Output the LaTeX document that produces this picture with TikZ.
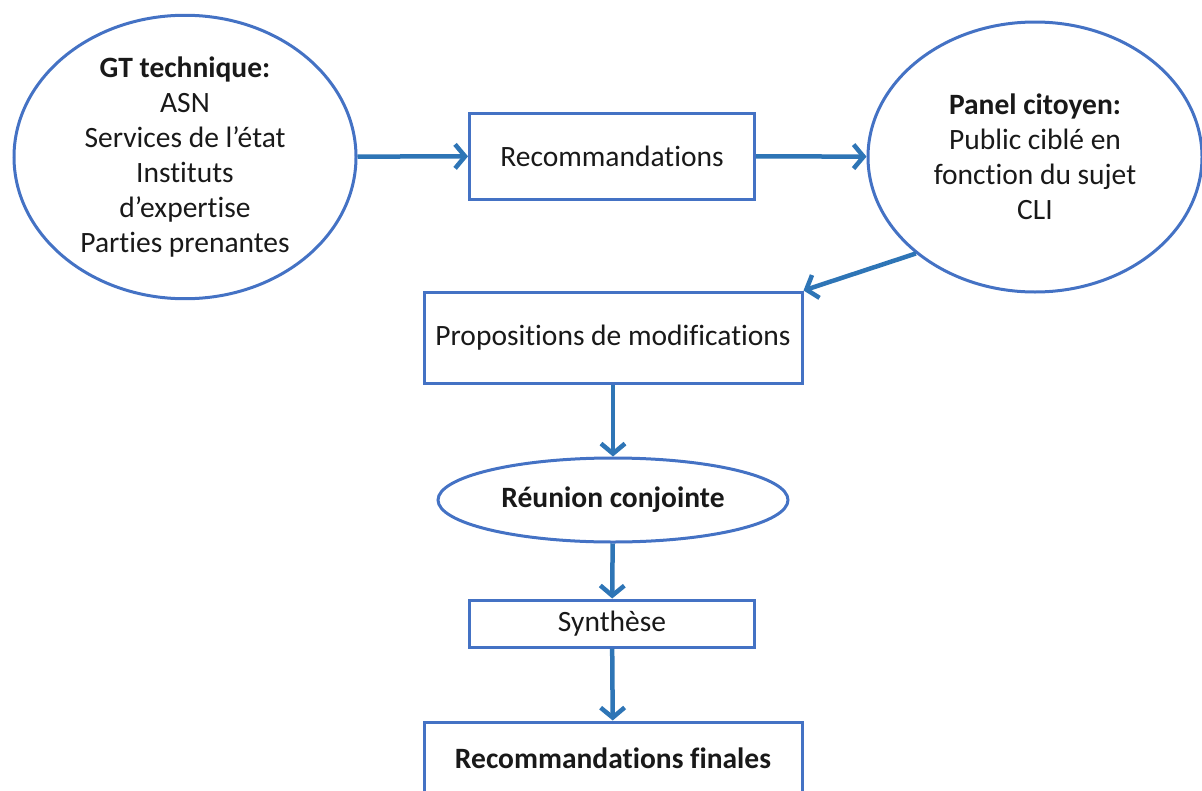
\documentclass[tikz,border=0pt]{standalone}
\usepackage{fontspec}
\setmainfont{Carlito}[Ligatures=NoCommon]
\usetikzlibrary{shapes.geometric,arrows.meta}
\definecolor{boxblue}{HTML}{4472C4}
\definecolor{arrowblue}{HTML}{2E75B6}
\begin{document}
\begin{tikzpicture}[x=1pt, y=-1pt,
    ovalnode/.style={ellipse, draw=boxblue, line width=3pt, inner sep=0pt, align=center},
    boxnode/.style={rectangle, draw=boxblue, line width=3pt, inner sep=0pt, align=center},
    flow/.style={draw=arrowblue, line width=4.5pt, -{Straight Barb[length=10pt,width=24pt]}},
    every node/.style={font=\fontsize{29.5}{35}\selectfont, text=black!90}
]
\clip (0,0) rectangle (1202,790);

\node[ovalnode, minimum width=342pt, minimum height=270pt] (gt) at (185,157)
    {\textbf{GT technique:}\\ASN\\Services de l’état\\Instituts\\d’expertise\\Parties prenantes};
\node[boxnode, minimum width=285pt, minimum height=86pt] (reco) at (612,156) {Recommandations};
\node[ovalnode, minimum width=334pt, minimum height=270pt] (panel) at (1035,157)
    {\textbf{Panel citoyen:}\\Public ciblé en\\fonction du sujet\\CLI};
\node[boxnode, minimum width=378pt, minimum height=91pt] (prop) at (613,337.5) {Propositions de modifications};
\node[ovalnode, minimum width=350pt, minimum height=84pt] (reunion) at (613,500) {\textbf{Réunion conjointe}};
\node[boxnode, minimum width=285pt, minimum height=47pt] (synth) at (612,623.5) {Synthèse};
% last box runs past the bottom edge
\node[boxnode, minimum width=378pt, minimum height=72pt] (final) at (613,758) {\textbf{Recommandations finales}};

\draw[flow] (gt) -- (reco);
\draw[flow] (reco) -- (panel);
\draw[flow] (panel.219) -- (prop.north east);
\draw[flow] (prop) -- (reunion);
\draw[flow] (reunion) -- (synth);
\draw[flow] (synth) -- (final);

\end{tikzpicture}
\end{document}
